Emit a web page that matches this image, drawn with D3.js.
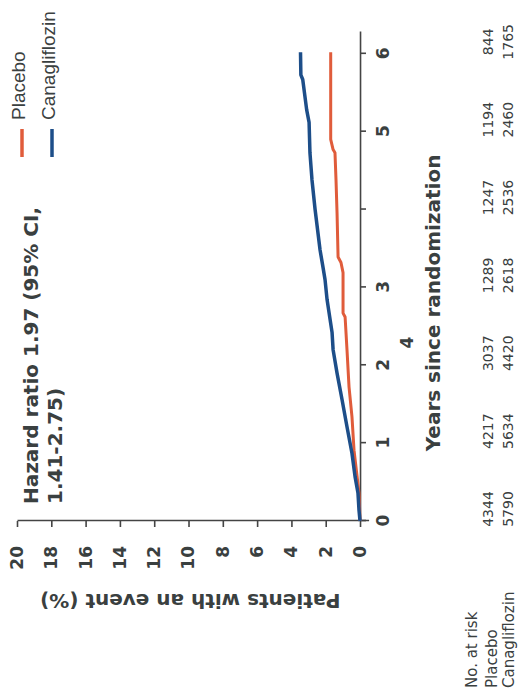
<!DOCTYPE html>
<html>
<head>
<meta charset="utf-8">
<script src="https://cdn.jsdelivr.net/npm/d3@7"></script>
<style>
  html, body { margin: 0; padding: 0; background: #fff; }
  svg { display: block; }
  text { fill: #3a4040; }
</style>
</head>
<body>
<svg id="chart" width="520" height="697"></svg>
<script>
// Kaplan-Meier cumulative incidence, canagliflozin vs placebo
const seriesNames = ["Placebo", "Canagliflozin"];
const seriesColors = ["#e05c3b", "#1d4e89"];

// years since randomization, cumulative % with an event
const placeboYears = [0, 0.36, 0.57, 0.91, 1.34, 1.72, 2.20, 2.62, 2.67, 3.19, 3.32, 3.39, 3.96, 4.38, 4.73, 4.77, 4.90, 6.02];
const placeboPct   = [0, 0.06, 0.17, 0.35, 0.47, 0.64, 0.76, 0.87, 0.99, 0.99, 1.11, 1.28, 1.34, 1.40, 1.46, 1.57, 1.71, 1.71];
const canaYears = [0, 0.14, 0.36, 0.57, 0.87, 1.21, 1.56, 1.90, 2.20, 2.42, 2.84, 3.10, 3.26, 3.48, 4.00, 4.38, 4.73, 5.12, 5.28, 5.67, 5.73, 6.02];
const canaPct   = [0, 0.06, 0.12, 0.29, 0.47, 0.76, 1.05, 1.34, 1.57, 1.63, 1.92, 2.04, 2.16, 2.33, 2.62, 2.80, 2.92, 2.97, 3.11, 3.34, 3.45, 3.47];

const yearTicks = [0, 1, 2, 3, 4, 5, 6];
const percentTicks = [0, 2, 4, 6, 8, 10, 12, 14, 16, 18, 20];

// number at risk
const atRiskYears = [0, 1, 2, 3, 4, 5, 6];
const placeboAtRisk = [4344, 4217, 3037, 1289, 1247, 1194, 844];
const canaAtRisk = [5790, 5634, 4420, 2618, 2536, 2460, 1765];

const hazardText = ["Hazard ratio 1.97 (95% CI,", "1.41-2.75)"];

// The figure is laid out in its own frame (W x H) and turned a quarter turn.
const W = 697, H = 520;
const svg = d3.select("#chart");
const g = svg.append("g").attr("transform", `translate(0,${W}) rotate(-90)`);

const x = d3.scaleLinear().domain([0, 6.28]).range([176, 665]);
const y = d3.scaleLinear().domain([-0.5, 20]).range([368.6, 17]);

const boldFont = "'DejaVu Sans', Verdana, sans-serif";

// y axis
const yAxis = g.append("g")
  .attr("transform", `translate(${x(0)},0)`)
  .call(d3.axisLeft(y).tickValues(percentTicks).tickSize(6).tickSizeOuter(0).tickPadding(19).tickFormat(d3.format("d")));
yAxis.select(".domain").attr("stroke", "#444").attr("stroke-width", 1.6);
yAxis.selectAll(".tick line").attr("stroke", "#444").attr("stroke-width", 1.6);
yAxis.selectAll(".tick text")
  .attr("font-family", boldFont).attr("font-weight", "bold").attr("font-size", 17)
  .attr("fill", "#3a4040");

// x axis
const xAxis = g.append("g")
  .attr("transform", `translate(0,${y(0)})`)
  .call(d3.axisBottom(x).tickValues(yearTicks).tickSize(6).tickSizeOuter(0).tickPadding(11)
    .tickFormat(d => d === 4 ? "" : d3.format("d")(d)));
xAxis.select(".domain").attr("stroke", "#444").attr("stroke-width", 1.6);
xAxis.selectAll(".tick line").attr("stroke", "#444").attr("stroke-width", 1.6);
xAxis.selectAll(".tick text")
  .attr("font-family", boldFont).attr("font-weight", "bold").attr("font-size", 17)
  .attr("fill", "#3a4040");

// the "4" label sits below the 3 in the printed figure
g.append("text")
  .attr("x", x(2.29)).attr("y", y(0) + 53)
  .attr("text-anchor", "middle")
  .attr("font-family", boldFont).attr("font-weight", "bold").attr("font-size", 17)
  .text("4");

// axis titles
g.append("text")
  .attr("x", x(2.8)).attr("y", y(0) + 80)
  .attr("text-anchor", "middle")
  .attr("font-family", boldFont).attr("font-weight", "bold").attr("font-size", 20)
  .text("Years since randomization");

g.append("text")
  .attr("transform", `translate(${96},${y(9.9)}) rotate(-90)`)
  .attr("text-anchor", "middle").attr("dominant-baseline", "central")
  .attr("font-family", boldFont).attr("font-weight", "bold").attr("font-size", 20)
  .text("Patients with an event (%)");

// hazard ratio annotation
g.append("text")
  .attr("x", x(0) + 17).attr("y", 38)
  .attr("font-family", boldFont).attr("font-weight", "bold").attr("font-size", 20)
  .selectAll("tspan").data(hazardText).join("tspan")
  .attr("x", x(0) + 17).attr("dy", (d, i) => i === 0 ? 0 : 24)
  .text(d => d);

// curves
const line = d3.line().x(d => x(d[0])).y(d => y(d[1])).curve(d3.curveLinear);
const curves = [
  d3.zip(placeboYears, placeboPct),
  d3.zip(canaYears, canaPct)
];
g.selectAll("path.km").data(curves).join("path")
  .attr("class", "km")
  .attr("fill", "none")
  .attr("stroke", (d, i) => seriesColors[i])
  .attr("stroke-width", (d, i) => i === 0 ? 3 : 3.5)
  .attr("stroke-linejoin", "round")
  .attr("d", line);

// legend
const legend = g.append("g");
seriesNames.forEach((name, i) => {
  const cy = 22 + i * 30;
  legend.append("line")
    .attr("x1", 540).attr("x2", 568).attr("y1", cy).attr("y2", cy)
    .attr("stroke", seriesColors[i]).attr("stroke-width", 3.5);
  legend.append("text")
    .attr("x", 577).attr("y", cy + 3)
    .attr("font-family", "'Liberation Sans', Arial, sans-serif").attr("font-size", 19)
    .text(name);
});

// number-at-risk table
const table = g.append("g").attr("font-family", "'DejaVu Sans', Verdana, sans-serif");
["No. at risk", "Placebo", "Canagliflozin"].forEach((t, i) => {
  table.append("text").attr("x", 9).attr("y", [477, 497, 514][i])
    .attr("font-size", 15).text(t);
});
[placeboAtRisk, canaAtRisk].forEach((row, r) => {
  table.selectAll(`text.row${r}`).data(row).join("text")
    .attr("class", `row${r}`)
    .attr("x", (d, i) => x(atRiskYears[i]) + 12)
    .attr("y", r === 0 ? 493 : 513)
    .attr("text-anchor", "middle")
    .attr("font-size", 14)
    .text(d => d);
});
</script>
</body>
</html>
